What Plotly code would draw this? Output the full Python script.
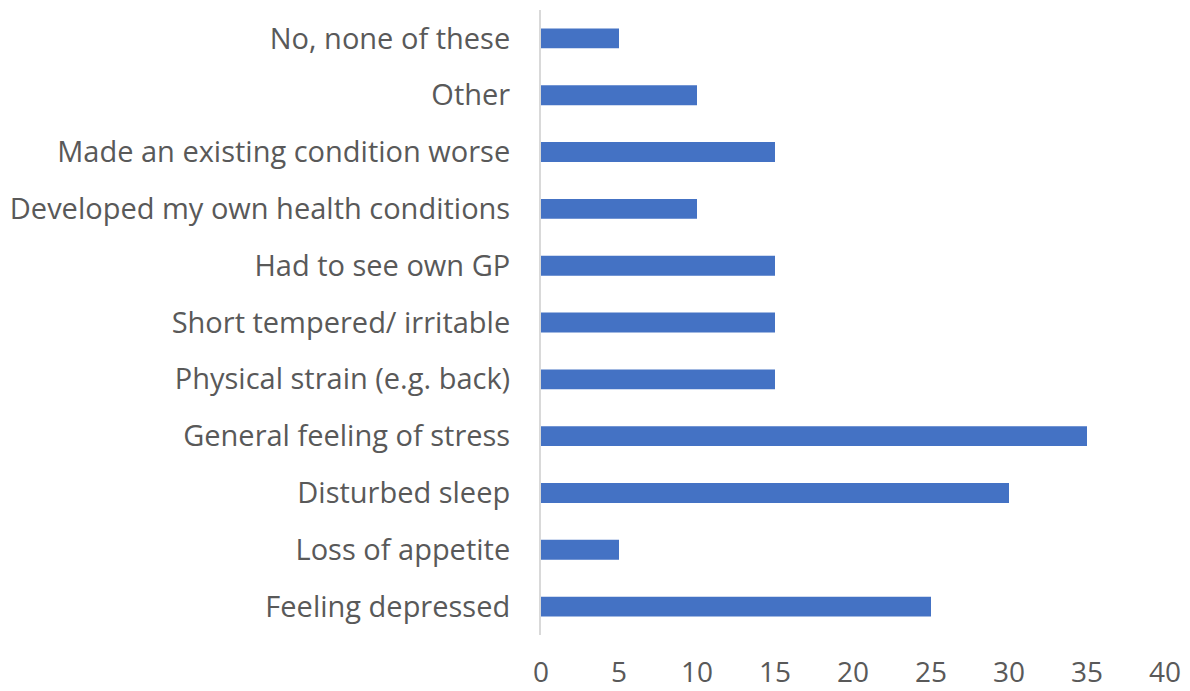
import plotly.graph_objects as go

categories = [
    "Feeling depressed",
    "Loss of appetite",
    "Disturbed sleep",
    "General feeling of stress",
    "Physical strain (e.g. back)",
    "Short tempered/ irritable",
    "Had to see own GP",
    "Developed my own health conditions",
    "Made an existing condition worse",
    "Other",
    "No, none of these",
]
values = [25, 5, 30, 35, 15, 15, 15, 10, 15, 10, 5]
x_ticks = [0, 5, 10, 15, 20, 25, 30, 35, 40]

text_color = "#595959"
font_family = "Open Sans, Noto Sans, sans-serif"

fig = go.Figure(
    go.Bar(
        x=values,
        y=categories,
        orientation="h",
        marker=dict(color="#4472C4", line=dict(width=0)),
    )
)

# page body has an 8px margin, so the figure is shrunk and shifted to compensate
fig.update_layout(
    width=1182,
    height=683,
    margin=dict(l=533, r=25, t=2, b=56),
    paper_bgcolor="white",
    plot_bgcolor="white",
    bargap=0.65,
    showlegend=False,
    font=dict(family=font_family, size=29, color=text_color),
)

fig.update_xaxes(
    range=[0, 40],
    tickvals=x_ticks,
    showgrid=False,
    zeroline=False,
    showline=False,
    ticklabelstandoff=18,
    automargin=False,
    tickfont=dict(size=28, color=text_color),
)

fig.update_yaxes(
    showgrid=False,
    zeroline=False,
    showline=True,
    linecolor="#D9D9D9",
    linewidth=2,
    ticks="",
    ticklabelstandoff=23,
    automargin=False,
    tickfont=dict(size=29, color=text_color),
)

fig.write_html("out.html")
